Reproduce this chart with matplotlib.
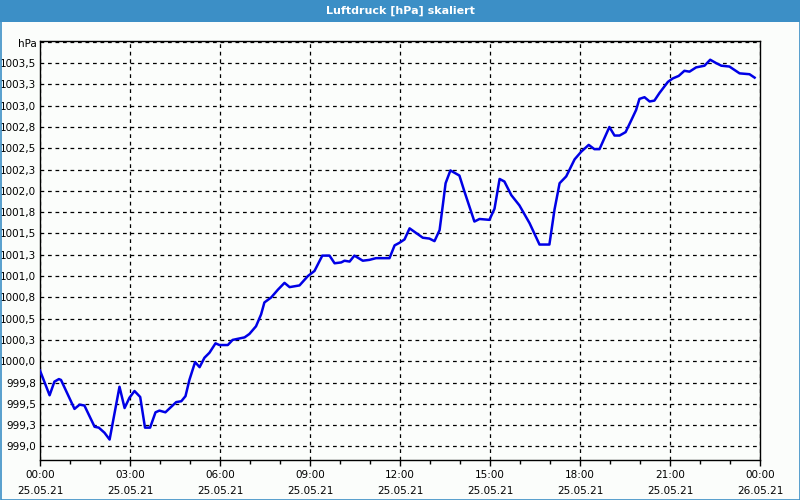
import matplotlib
matplotlib.use("Agg")
import matplotlib.pyplot as plt
from matplotlib.patches import Rectangle

# time in hours since 25.05.21 00:00
hours = [0.0, 0.32, 0.48, 0.63, 0.70, 1.15, 1.32, 1.48, 1.82, 1.96, 2.15, 2.32,
         2.65, 2.82, 2.98, 3.15, 3.34, 3.50, 3.67, 3.85, 3.98, 4.18, 4.54, 4.71,
         4.85, 4.98, 5.17, 5.32, 5.48, 5.65, 5.85, 5.98, 6.26, 6.42, 6.82, 6.98,
         7.20, 7.37, 7.48, 7.71, 7.93, 8.15, 8.32, 8.65, 8.93, 9.15, 9.41, 9.65,
         9.82, 10.04, 10.15, 10.32, 10.48, 10.76, 10.98, 11.20, 11.65, 11.82, 11.98,
         12.15, 12.32, 12.48, 12.76, 12.98, 13.15, 13.32, 13.43, 13.52, 13.68, 13.98,
         14.15, 14.48, 14.65, 14.98, 15.15, 15.32, 15.48, 15.71, 15.98, 16.32, 16.65,
         16.98, 17.15, 17.32, 17.54, 17.82, 18.04, 18.29, 18.48, 18.65, 18.98, 19.15,
         19.32, 19.52, 19.71, 19.87, 19.98, 20.15, 20.32, 20.48, 20.65, 20.93, 21.09,
         21.29, 21.48, 21.65, 21.87, 22.15, 22.34, 22.54, 22.71, 22.98, 23.32, 23.65,
         23.82]
pressure = [999.89, 999.60, 999.76, 999.79, 999.78, 999.44, 999.49, 999.48, 999.23,
            999.22, 999.16, 999.08, 999.70, 999.45, 999.57, 999.65, 999.58, 999.22,
            999.22, 999.40, 999.42, 999.40, 999.52, 999.53, 999.59, 999.78, 999.99,
            999.93, 1000.04, 1000.10, 1000.21, 1000.19, 1000.19, 1000.25, 1000.28,
            1000.32, 1000.41, 1000.55, 1000.69, 1000.75, 1000.84, 1000.92, 1000.87,
            1000.89, 1001.00, 1001.06, 1001.24, 1001.24, 1001.15, 1001.16, 1001.18,
            1001.17, 1001.24, 1001.18, 1001.19, 1001.21, 1001.21, 1001.36, 1001.39,
            1001.43, 1001.56, 1001.52, 1001.45, 1001.44, 1001.41, 1001.54, 1001.84,
            1002.09, 1002.24, 1002.18, 1001.99, 1001.64, 1001.67, 1001.66, 1001.79,
            1002.14, 1002.11, 1001.95, 1001.83, 1001.62, 1001.37, 1001.37, 1001.78,
            1002.09, 1002.17, 1002.37, 1002.46, 1002.54, 1002.49, 1002.49, 1002.75,
            1002.65, 1002.65, 1002.69, 1002.83, 1002.95, 1003.08, 1003.10, 1003.05,
            1003.06, 1003.15, 1003.28, 1003.32, 1003.35, 1003.41, 1003.40, 1003.45,
            1003.47, 1003.54, 1003.50, 1003.47, 1003.46, 1003.38, 1003.37, 1003.33]

x_ticks = [0, 3, 6, 9, 12, 15, 18, 21, 24]
x_labels = ["00:00\n25.05.21", "03:00\n25.05.21", "06:00\n25.05.21", "09:00\n25.05.21",
            "12:00\n25.05.21", "15:00\n25.05.21", "18:00\n25.05.21", "21:00\n25.05.21",
            "00:00\n26.05.21"]
y_ticks = [999.0, 999.25, 999.5, 999.75, 1000.0, 1000.25, 1000.5, 1000.75, 1001.0,
           1001.25, 1001.5, 1001.75, 1002.0, 1002.25, 1002.5, 1002.75, 1003.0, 1003.25,
           1003.5, 1003.75]
y_labels = ["999,0", "999,3", "999,5", "999,8", "1000,0", "1000,3", "1000,5", "1000,8",
            "1001,0", "1001,3", "1001,5", "1001,8", "1002,0", "1002,3", "1002,5", "1002,8",
            "1003,0", "1003,3", "1003,5", ""]
title = "Luftdruck [hPa] skaliert"
unit = "hPa"

bg = "#fbfdfb"
blue = "#3c8fc6"
fig = plt.figure(figsize=(8, 5), dpi=100, facecolor=bg)

# title bar and frame
fig.patches.append(Rectangle((0, 1 - 22/500), 1, 22/500, transform=fig.transFigure,
                             facecolor=blue, edgecolor="none", zorder=0))
fig.patches.append(Rectangle((0.5/800, 0.5/500), 799/800, 499/500, transform=fig.transFigure,
                             facecolor="none", edgecolor=blue, linewidth=1.2, zorder=0))
fig.text(0.5, 1 - 11/500, title, color="white", fontsize=8, fontweight="bold",
         ha="center", va="center", family="DejaVu Sans")

ax = fig.add_axes([40/800, 1 - 460/500, 720/800, 419/500])
ax.set_facecolor(bg)
ax.plot(hours, pressure, color="#0000e6", linewidth=1.8, zorder=3)

ax.set_xlim(0, 24)
ax.set_ylim(998.84, 1003.76)
ax.set_xticks(x_ticks)
ax.set_xticklabels(x_labels, fontsize=7.5, linespacing=1.8)
ax.set_xticks(range(0, 25), minor=True)
ax.set_yticks(y_ticks)
ax.set_yticklabels(y_labels, fontsize=7.5)
ax.tick_params(axis="x", which="both", direction="out", length=4, width=1, pad=3,
               colors="black")
ax.tick_params(axis="x", which="minor", length=3)
ax.tick_params(axis="y", length=0, pad=3)
ax.grid(True, which="major", color="black", linestyle=(0, (3, 3)), linewidth=0.9)
for s in ax.spines.values():
    s.set_color("black")
    s.set_linewidth(1)

ax.text(-0.004, 1003.72, unit, transform=ax.get_yaxis_transform(), ha="right",
        va="center", fontsize=7.5)

fig.savefig("out.png", dpi=100, facecolor=bg)
